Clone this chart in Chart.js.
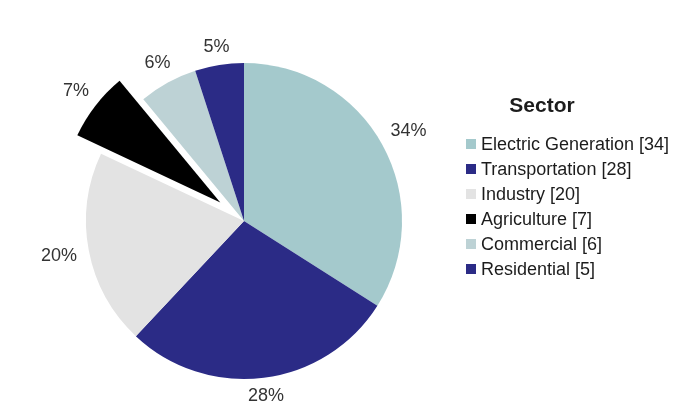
<!DOCTYPE html>
<html>
<head>
<meta charset="utf-8">
<script src="https://cdn.jsdelivr.net/npm/chart.js@4/dist/chart.umd.min.js"></script>
<style>
  html, body { margin: 0; padding: 0; background: #fff; }
  body { width: 689px; height: 406px; position: relative; overflow: hidden; font-family: "Liberation Sans", Arial, sans-serif; }
  #wrap { position: absolute; left: 0; top: 0; width: 689px; height: 406px; }
  #legend { position: absolute; left: 466px; top: 92px; width: 223px; color: #1c1c1c; }
  #legend .title { width: 152px; text-align: center; font-weight: bold; font-size: 21px; line-height: 26px; margin-bottom: 14px; }
  #legend .row { height: 25px; line-height: 25px; font-size: 18px; white-space: nowrap; }
  #legend .box { display: inline-block; width: 10px; height: 10px; margin-right: 5px; vertical-align: 1px; }
</style>
</head>
<body>
<div id="wrap"><canvas id="graficoSetores"></canvas></div>
<div id="legend"></div>
<script>
const sectors = ["Electric Generation", "Transportation", "Industry", "Agriculture", "Commercial", "Residential"];
const shares = [34, 28, 20, 7, 6, 5];
const sliceColors = ["#a4c9cc", "#2b2b86", "#e3e3e3", "#000000", "#bdd2d5", "#2b2b86"];
const explodePx = [0, 0, 0, 30, 0, 0];
const legendTitle = "Sector";

// Chart.js' own offset also grows the radius of narrow slices, so the
// exploded slice is shifted here instead and drawn with the arc element itself
const explodedSlices = {
  id: "explodedSlices",
  beforeDatasetDraw(chart, args) {
    const ctx = chart.ctx;
    const meta = args.meta;
    meta.data.forEach((arc, i) => {
      const p = arc.getProps(["startAngle", "endAngle"], true);
      const mid = (p.startAngle + p.endAngle) / 2;
      ctx.save();
      ctx.translate(Math.cos(mid) * explodePx[i], Math.sin(mid) * explodePx[i]);
      arc.draw(ctx, chart.chartArea);
      ctx.restore();
    });
    return false;
  }
};

// percentages drawn outside each slice
const outsideLabels = {
  id: "outsideLabels",
  afterDatasetsDraw(chart) {
    const ctx = chart.ctx;
    const meta = chart.getDatasetMeta(0);
    const total = shares.reduce((a, b) => a + b, 0);
    ctx.save();
    ctx.font = "18px 'Liberation Sans', Arial, sans-serif";
    ctx.fillStyle = "#333";
    ctx.textAlign = "center";
    ctx.textBaseline = "middle";
    meta.data.forEach((arc, i) => {
      const p = arc.getProps(["x", "y", "startAngle", "endAngle", "outerRadius"], true);
      const mid = (p.startAngle + p.endAngle) / 2;
      const c = Math.cos(mid), s = Math.sin(mid);
      const text = Math.round(shares[i] / total * 100) + "%";
      const halfW = ctx.measureText(text).width / 2;
      const halfH = 4;
      const d = p.outerRadius + explodePx[i] + 12 + halfW * Math.abs(c) + halfH * Math.abs(s);
      ctx.fillText(text, p.x + c * d, p.y + s * d);
    });
    ctx.restore();
  }
};

const ctx = document.getElementById("graficoSetores").getContext("2d");
new Chart(ctx, {
  type: "pie",
  data: {
    labels: sectors,
    datasets: [{
      data: shares,
      backgroundColor: sliceColors,
      borderWidth: 0,
      hoverOffset: 0
    }]
  },
  options: {
    responsive: true,
    maintainAspectRatio: false,
    animation: false,
    layout: { padding: { left: 86, right: 287, top: 63, bottom: 27 } },
    plugins: {
      legend: { display: false },
      tooltip: { enabled: false }
    }
  },
  plugins: [explodedSlices, outsideLabels]
});

// legend built from the same arrays
const legend = document.getElementById("legend");
let html = '<div class="title">' + legendTitle + '</div>';
sectors.forEach((name, i) => {
  html += '<div class="row"><span class="box" style="background:' + sliceColors[i] + '"></span>' +
    name + ' [' + shares[i] + ']</div>';
});
legend.innerHTML = html;
</script>
</body>
</html>
